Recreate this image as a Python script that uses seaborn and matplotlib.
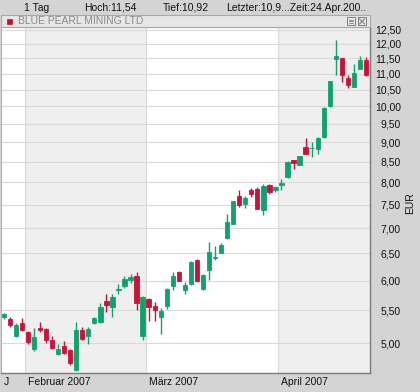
import numpy as np
import pandas as pd
import matplotlib
matplotlib.use("Agg")
import matplotlib.pyplot as plt
import matplotlib.transforms as mtrans
from matplotlib.patches import Rectangle
from matplotlib.lines import Line2D
import seaborn as sns

# ---------------- data (daily candles, late Jan .. 24 Apr 2007) ----------------
opens = [5.39, 5.37, 5.10, 5.30, 5.16, 4.92, 5.22, 5.21, 5.05, 4.84,
         4.96, 4.90, 4.62, 5.20, 5.10, 5.30, 5.31, 5.66, 5.56, 5.84,
         5.91, 6.01, 6.08, 5.10, 5.69, 5.58, 5.39, 5.58, 5.90, 6.15,
         5.84, 5.94, 6.38, 5.85, 6.19, 6.42, 6.51, 6.79, 7.09, 7.69,
         7.51, 7.83, 7.85, 7.38, 7.93, 7.83, 7.93, 8.14, 8.54, 8.43,
         8.88, 8.84, 8.82, 9.14, 10.01, 11.49, 11.51, 10.85, 10.58, 11.15,
         11.45]
highs = [5.46, 5.39, 5.30, 5.38, 5.18, 5.23, 5.31, 5.22, 5.11, 4.98,
         5.03, 4.92, 5.31, 5.24, 5.24, 5.40, 5.62, 5.78, 5.78, 5.95,
         6.08, 6.12, 6.15, 5.73, 5.70, 5.64, 5.54, 5.88, 6.15, 6.17,
         5.98, 6.36, 6.40, 6.12, 6.72, 6.64, 6.71, 7.29, 7.58, 7.83,
         7.69, 7.88, 7.89, 7.96, 7.96, 7.91, 8.08, 8.51, 8.55, 8.65,
         9.12, 9.00, 9.13, 9.97, 10.78, 12.14, 11.53, 10.95, 11.30, 11.58,
         11.54]
lows = [5.36, 5.24, 5.09, 5.18, 4.98, 4.89, 5.16, 5.00, 4.91, 4.83,
        4.84, 4.69, 4.61, 5.05, 4.98, 5.28, 5.30, 5.48, 5.39, 5.77,
        5.87, 5.96, 5.50, 5.05, 5.34, 5.34, 5.13, 5.53, 5.84, 5.99,
        5.78, 5.93, 5.98, 5.84, 6.02, 6.38, 6.50, 6.78, 7.08, 7.45,
        7.42, 7.67, 7.40, 7.28, 7.73, 7.79, 7.83, 8.10, 8.32, 8.42,
        8.69, 8.61, 8.70, 9.12, 9.98, 10.97, 10.74, 10.56, 10.57, 11.14,
        10.92]
closes = [5.44, 5.27, 5.27, 5.19, 5.01, 5.09, 5.19, 5.04, 4.93, 4.92,
          4.85, 4.72, 5.19, 5.06, 5.21, 5.38, 5.55, 5.59, 5.72, 5.86,
          6.03, 6.07, 5.62, 5.72, 5.55, 5.51, 5.49, 5.86, 6.08, 6.00,
          5.92, 6.34, 6.00, 6.11, 6.53, 6.44, 6.66, 7.12, 7.57, 7.49,
          7.65, 7.74, 7.41, 7.92, 7.77, 7.90, 7.99, 8.50, 8.48, 8.64,
          8.70, 8.86, 9.12, 9.95, 10.77, 11.59, 10.97, 10.63, 11.03, 11.46,
          10.96]

month_labels = ["J", "Februar 2007", "März 2007", "April 2007"]
month_first_candle = [0, 4, 24, 46]
ytick_values = [5.00, 5.50, 6.00, 6.50, 7.00, 7.50, 8.00, 8.50, 9.00,
                9.50, 10.00, 10.50, 11.00, 11.50, 12.00, 12.50]
header_texts = ["1 Tag", "Hoch:11,54", "Tief:10,92",
                "Letzter:10,9...Zeit:24.Apr.200.."]
title_text = "BLUE PEARL MINING LTD"
unit_label = "EUR"

# ---------------- styling ----------------
sns.set_theme(style="white")
plt.rcParams["font.family"] = ["Liberation Sans", "DejaVu Sans"]

GREEN = "#14a06c"
RED = "#c8133a"
BG = "#d4d4d4"
SHADE = "#efefef"
GRID = "#dadada"
FS = 7.5

W, H = 420, 392
fig = plt.figure(figsize=(W / 100, H / 100), dpi=100, facecolor=BG)


def fx(x):
    return x / W


def fy(y):
    return 1 - y / H


# main axes
ax = fig.add_axes([fx(1), fy(373), fx(370) - fx(1), fy(27) - fy(373)])
ax.set_facecolor("white")

df = pd.DataFrame({"o": opens, "h": highs, "l": lows, "c": closes})
df["i"] = np.arange(len(df))
df["up"] = df["c"] >= df["o"]
colors = np.where(df["up"], GREEN, RED)

n = len(df)
xmin, xmax = -0.45, n - 1 + 0.66
ax.set_xlim(xmin, xmax)
ax.set_yscale("log")
ax.set_ylim(4.58, 12.61)

# month shading and separators
bounds = [xmin] + [m - 0.5 for m in month_first_candle[1:]] + [xmax]
for k in range(len(month_first_candle)):
    if k % 2 == 1:
        ax.axvspan(bounds[k], bounds[k + 1], color=SHADE, zorder=0, lw=0)
for b in bounds[1:-1]:
    ax.axvline(b, color=GRID, lw=0.8, zorder=0.5)

# y grid
ax.yaxis.tick_right()
ax.set_yticks(ytick_values)
ax.set_yticklabels([f"{v:.2f}".replace(".", ",") for v in ytick_values])
ax.yaxis.set_minor_locator(matplotlib.ticker.NullLocator())
for v in ytick_values:
    ax.axhline(v, color=GRID, lw=0.8, zorder=0.6)
ax.tick_params(axis="y", which="both", length=0, pad=22.3, labelsize=FS,
               colors="#111111")
for lab in ax.get_yticklabels():
    lab.set_ha("right")

# x ticks: month starts
ax.set_xticks(bounds[:-1])
ax.set_xticklabels(month_labels)
ax.tick_params(axis="x", length=0, pad=3, labelsize=FS, colors="#111111")
off = mtrans.ScaledTranslation(3 / 100, 0, fig.dpi_scale_trans)
for lab in ax.get_xticklabels():
    lab.set_ha("left")
    lab.set_transform(lab.get_transform() + off)

# candles
ax.vlines(df["i"], df["l"], df["h"], colors=colors, lw=1, zorder=2)
body_low = np.minimum(df["o"], df["c"])
body_h = np.abs(df["c"] - df["o"])
ax.bar(df["i"], body_h, bottom=body_low, width=0.72, color=colors,
       edgecolor=colors, linewidth=0.6, zorder=3)

for side in ["left", "top"]:
    ax.spines[side].set_color("#b0b0b0")
    ax.spines[side].set_linewidth(0.8)
for side in ["right", "bottom"]:
    ax.spines[side].set_color("#7a7a7a")
    ax.spines[side].set_linewidth(1.0)

# title bar
fig.patches.append(Rectangle((fx(1), fy(27)), fx(369), fy(15) - fy(27),
                             transform=fig.transFigure, facecolor="#e6e6e6",
                             edgecolor="#a8a8a8", lw=0.8, zorder=1))
fig.patches.append(Rectangle((fx(7), fy(24)), fx(5), fy(18.5) - fy(24),
                             transform=fig.transFigure, facecolor="#c0102a",
                             edgecolor="#c0102a", lw=0.5, zorder=2))
fig.text(fx(18), fy(21.3), title_text, fontsize=FS, color="#8a8a8a",
         ha="left", va="center")
for x0 in (347, 358):
    fig.patches.append(Rectangle((fx(x0), fy(25)), fx(8), fy(17.5) - fy(25),
                                 transform=fig.transFigure,
                                 facecolor="#e6e6e6", edgecolor="#808080",
                                 lw=0.7, zorder=2))
for yy in (19.5, 21.3, 23.1):
    fig.lines.append(Line2D([fx(349), fx(353)], [fy(yy), fy(yy)],
                            transform=fig.transFigure, color="#808080",
                            lw=0.6, zorder=5))
fig.lines.append(Line2D([fx(359.5), fx(364.5)], [fy(19), fy(24)],
                        transform=fig.transFigure, color="#808080", lw=0.8,
                        zorder=5))
fig.lines.append(Line2D([fx(359.5), fx(364.5)], [fy(24), fy(19)],
                        transform=fig.transFigure, color="#808080", lw=0.8,
                        zorder=5))

# header row
for xpos, t in zip([24.5, 84.5, 162.5, 226.5], header_texts):
    fig.text(fx(xpos), fy(8), t, fontsize=FS, color="#111111",
             ha="left", va="center")

# unit label
fig.text(fx(410), fy(203), unit_label, rotation=90, fontsize=FS,
         color="#111111", ha="center", va="center")

fig.savefig("out.png", dpi=100, facecolor=BG)
